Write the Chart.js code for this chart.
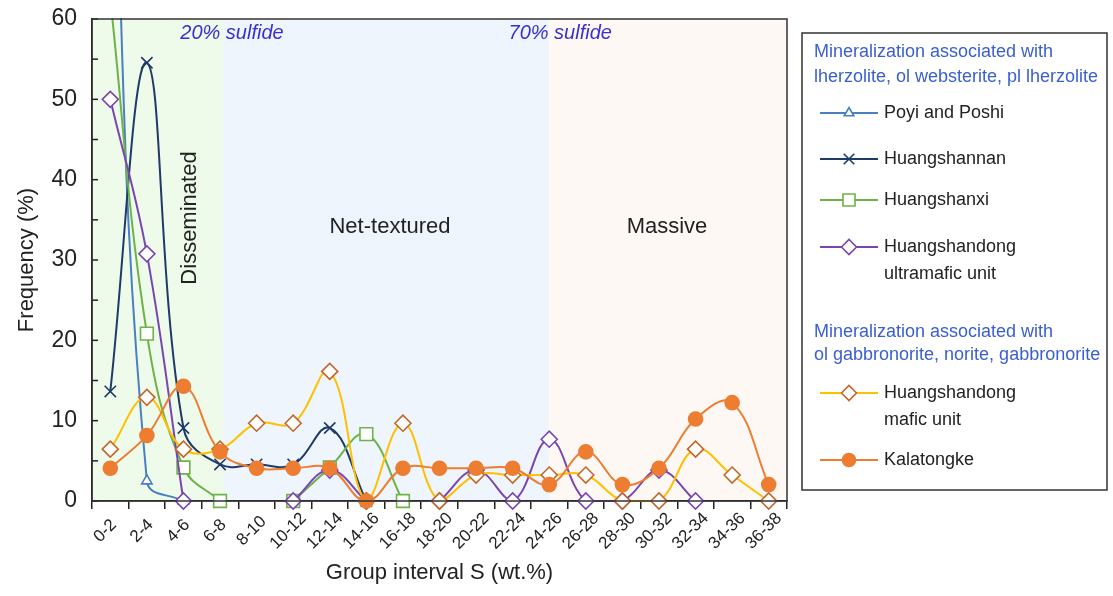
<!DOCTYPE html>
<html lang="en">
<head>
<meta charset="UTF-8">
<title>Sulfide grade frequency</title>
<script src="https://cdn.jsdelivr.net/npm/chart.js"></script>
<style>
  body { margin: 0; background: #fff; }
  .wrap { position: relative; width: 1113px; height: 596px; }
</style>
</head>
<body>
<div class="wrap"><canvas id="freqChart" width="1113" height="596"></canvas></div>
<script>
// S content intervals (wt.%)
const intervals = ['0-2', '2-4', '4-6', '6-8', '8-10', '10-12', '12-14', '14-16', '16-18', '18-20',
  '20-22', '22-24', '24-26', '26-28', '28-30', '30-32', '32-34', '34-36', '36-38'];

// frequency (%) per interval, null = no samples plotted
const poyiPoshi = [97.5, 2.5, 0, null, null, null, null, null, null, null,
  null, null, null, null, null, null, null, null, null];
const huangshannan = [13.64, 54.55, 9.09, 4.55, 4.55, 4.55, 9.09, 0, null, null,
  null, null, null, null, null, null, null, null, null];
const huangshanxi = [62.5, 20.83, 4.17, 0, null, 0, 4.17, 8.33, 0, null,
  null, null, null, null, null, null, null, null, null];
const hsdUltramafic = [50, 30.77, 0, null, null, 0, 3.85, 0, null, 0,
  3.85, 0, 7.69, 0, 0, 3.85, 0, null, null];
const hsdMafic = [6.45, 12.9, 6.45, 6.45, 9.68, 9.68, 16.13, 0, 9.68, 0,
  3.23, 3.23, 3.23, 3.23, 0, 0, 6.45, 3.23, 0];
const kalatongke = [4.08, 8.16, 14.29, 6.12, 4.08, 4.08, 4.08, 0, 4.08, 4.08,
  4.08, 4.08, 2.04, 6.12, 2.04, 4.08, 10.2, 12.24, 2.04];

const yTicks = [0, 10, 20, 30, 40, 50, 60];

// texture zones, in category index units
const zoneEdges = { green: 3.08, blue: 12 };

const ink = '#222';
const FONT = '"Liberation Sans", Arial, sans-serif';

function series(label, data, color, style, radius, fill, edge, order) {
  return {
    label: label,
    data: data,
    borderColor: color,
    borderWidth: 2,
    tension: 0.4,
    spanGaps: false,
    pointStyle: style,
    pointRadius: radius,
    pointHoverRadius: radius,
    pointBackgroundColor: fill,
    pointBorderColor: edge || color,
    pointBorderWidth: 1.6,
    clip: { left: 12, right: 12, top: 1, bottom: 12 },
    order: order
  };
}

const datasets = [
  series('Poyi and Poshi', poyiPoshi, '#4a7fc1', 'triangle', 6, '#fff', null, 5),
  series('Huangshannan', huangshannan, '#1f3a68', 'crossRot', 8, '#fff', null, 4),
  series('Huangshanxi', huangshanxi, '#6fb24a', 'rect', 9, '#fff', null, 3),
  series(['Huangshandong', 'ultramafic unit'], hsdUltramafic, '#7a45b0', 'rectRot', 8, '#fff', null, 2),
  series(['Huangshandong', 'mafic unit'], hsdMafic, '#ffc000', 'rectRot', 8, '#fff', '#c0662a', 1),
  series('Kalatongke', kalatongke, '#ed7d31', 'circle', 7, '#ed7d31', null, 0)
];

// shaded zones, zone captions, inner y ticks, slanted x labels and frame
const zonesPlugin = {
  id: 'zones',
  beforeDraw(chart) {
    const { ctx, chartArea: a, scales: { x } } = chart;
    const step = x.getPixelForValue(1) - x.getPixelForValue(0);
    const gx = x.getPixelForValue(0) + zoneEdges.green * step;
    const bx = x.getPixelForValue(0) + zoneEdges.blue * step;
    ctx.save();
    ctx.fillStyle = '#eefaea';
    ctx.fillRect(a.left, a.top, gx - a.left, a.bottom - a.top);
    ctx.fillStyle = '#eef5fd';
    ctx.fillRect(gx, a.top, bx - gx, a.bottom - a.top);
    ctx.fillStyle = '#fdf8f4';
    ctx.fillRect(bx, a.top, a.right - bx, a.bottom - a.top);
    ctx.restore();
  },
  beforeDatasetsDraw(chart) {
    const { ctx, chartArea: a, scales: { x } } = chart;
    const step = x.getPixelForValue(1) - x.getPixelForValue(0);
    const gx = x.getPixelForValue(0) + zoneEdges.green * step;
    const bx = x.getPixelForValue(0) + zoneEdges.blue * step;
    ctx.save();
    ctx.textAlign = 'center';
    ctx.textBaseline = 'middle';
    ctx.fillStyle = '#3a2fd0';
    ctx.font = 'italic 20px ' + FONT;
    ctx.fillText('20% sulfide', gx + 9, a.top + 14);
    ctx.fillText('70% sulfide', bx + 11, a.top + 14);
    ctx.fillStyle = ink;
    ctx.font = '22px ' + FONT;
    ctx.fillText('Net-textured', 390, 227);
    ctx.fillText('Massive', 667, 227);
    ctx.translate(190, 218);
    ctx.rotate(-Math.PI / 2);
    ctx.fillText('Disseminated', 0, 0);
    ctx.restore();
  },
  afterDraw(chart) {
    const { ctx, chartArea: a, scales: { x, y } } = chart;
    ctx.save();
    ctx.strokeStyle = ink;
    ctx.lineWidth = 1.5;
    y.ticks.forEach(t => {
      const py = y.getPixelForValue(t.value);
      ctx.beginPath();
      ctx.moveTo(a.left, py);
      ctx.lineTo(a.left + 6, py);
      ctx.stroke();
    });
    ctx.strokeStyle = '#333';
    ctx.strokeRect(a.left, a.top, a.right - a.left, a.bottom - a.top);
    ctx.fillStyle = ink;
    ctx.font = '17px ' + FONT;
    ctx.textAlign = 'center';
    ctx.textBaseline = 'middle';
    intervals.forEach((lab, i) => {
      ctx.save();
      ctx.translate(x.getPixelForValue(i) - 5, a.bottom + 30);
      ctx.rotate(-Math.PI / 4);
      ctx.fillText(lab, 0, 0);
      ctx.restore();
    });
    ctx.restore();
  }
};

// grouped legend box on the right
const groups = [
  { title: ['Mineralization associated with', 'lherzolite, ol websterite, pl lherzolite'], titleY: [52, 77],
    items: [[0, 113], [1, 159], [2, 200], [3, 247]] },
  { title: ['Mineralization associated with', 'ol gabbronorite, norite, gabbronorite'], titleY: [332, 355],
    items: [[4, 393], [5, 460]] }
];

const legendPlugin = {
  id: 'groupLegend',
  afterDraw(chart) {
    const ctx = chart.ctx;
    ctx.save();
    ctx.strokeStyle = '#333';
    ctx.lineWidth = 1.5;
    ctx.strokeRect(802, 33, 305, 457);
    ctx.textBaseline = 'middle';
    ctx.textAlign = 'left';
    groups.forEach(g => {
      ctx.fillStyle = '#3a5fd0';
      ctx.font = '18px ' + FONT;
      g.title.forEach((t, i) => ctx.fillText(t, 814, g.titleY[i]));
      g.items.forEach(([idx, y]) => {
        const ds = chart.data.datasets[idx];
        ctx.strokeStyle = ds.borderColor;
        ctx.lineWidth = 2;
        ctx.beginPath();
        ctx.moveTo(820, y);
        ctx.lineTo(878, y);
        ctx.stroke();
        ctx.fillStyle = ds.pointBackgroundColor;
        ctx.strokeStyle = ds.pointBorderColor;
        ctx.lineWidth = 1.6;
        Chart.helpers.drawPoint(ctx, { pointStyle: ds.pointStyle, radius: ds.pointRadius - 0.5, borderWidth: 1.6 }, 849, y);
        ctx.fillStyle = ink;
        ctx.font = '18px ' + FONT;
        const lines = Array.isArray(ds.label) ? ds.label : [ds.label];
        lines.forEach((t, i) => ctx.fillText(t, 884, y + i * 27));
      });
    });
    ctx.restore();
  }
};

new Chart(document.getElementById('freqChart'), {
  type: 'line',
  data: { labels: intervals, datasets: datasets },
  plugins: [zonesPlugin, legendPlugin],
  options: {
    responsive: false,
    animation: false,
    events: [],
    layout: { padding: { left: 14, top: 19, right: 326, bottom: 6 } },
    plugins: { legend: { display: false }, tooltip: { enabled: false } },
    scales: {
      x: {
        type: 'category',
        offset: true,
        grid: { offset: true, drawOnChartArea: false, drawTicks: true, tickLength: 8, color: ink, lineWidth: 1.5 },
        border: { display: true, color: ink, width: 1.5 },
        ticks: { display: false },
        title: { display: true, text: 'Group interval S (wt.%)', color: ink, padding: { top: 2, bottom: 4 },
          font: { family: FONT, size: 22 } },
        afterFit(s) { s.height = 89; s.paddingLeft = 0; s.paddingRight = 0; }
      },
      y: {
        min: 0,
        max: 60,
        grid: { drawOnChartArea: false, drawTicks: false },
        border: { display: true, color: ink, width: 1.5 },
        ticks: { stepSize: 5, color: ink, padding: 15, font: { family: FONT, size: 23 },
          callback: v => yTicks.includes(v) ? v : '' },
        title: { display: true, text: 'Frequency (%)', color: ink, padding: { top: 0, bottom: 4 },
          font: { family: FONT, size: 22 } },
        afterFit(s) { s.width = 78; s.paddingTop = 0; s.paddingBottom = 0; }
      }
    }
  }
});
</script>
</body>
</html>
